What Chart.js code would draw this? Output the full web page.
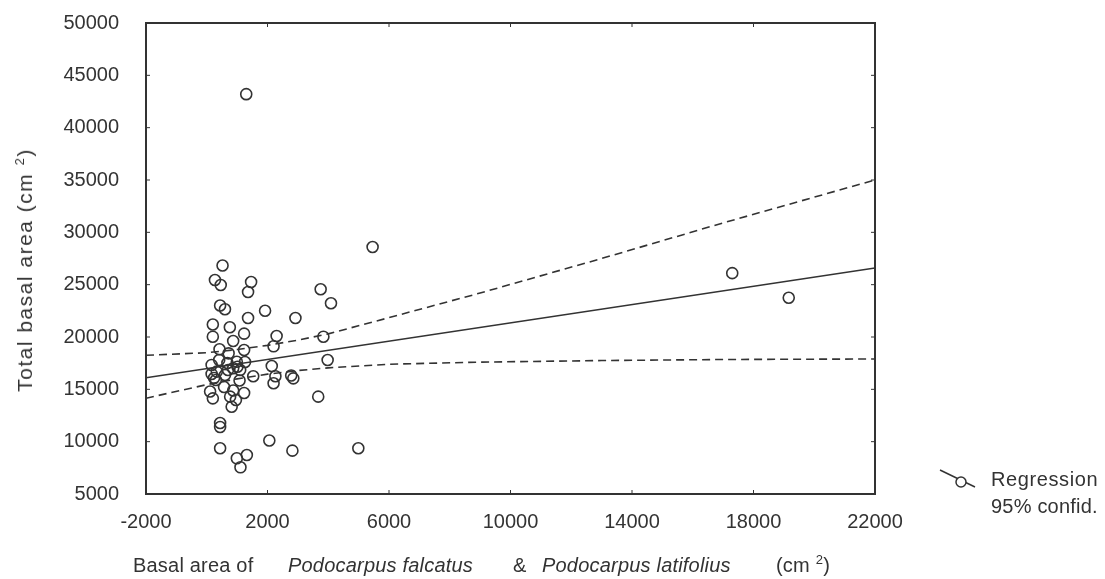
<!DOCTYPE html>
<html><head><meta charset="utf-8">
<script src="https://cdn.jsdelivr.net/npm/chart.js@4"></script>
<style>
html,body{margin:0;padding:0;background:#fff;}
#wrap{position:relative;width:1105px;height:579px;font-family:"Liberation Sans",Arial,sans-serif;color:#333;overflow:hidden;}
canvas{position:absolute;left:0;top:0;}
.t{position:absolute;white-space:nowrap;font-size:20px;line-height:20px;letter-spacing:0.2px;}
.i{font-style:italic;}
sup{font-size:13px;vertical-align:8px;line-height:0;}
#ytitle{position:absolute;left:25px;top:270px;transform:translate(-50%,-50%) rotate(-90deg);white-space:nowrap;font-size:21px;line-height:22px;letter-spacing:1.5px;}
</style></head><body>
<div id="wrap">
<canvas id="c" width="1105" height="579"></canvas>
<div id="ytitle">Total basal area (cm <sup>2</sup>)</div>
<div class="t" style="left:133px;top:555px">Basal area of</div>
<div class="t i" style="left:288px;top:555px">Podocarpus falcatus</div>
<div class="t" style="left:513px;top:555px">&amp;</div>
<div class="t i" style="left:542px;top:555px">Podocarpus latifolius</div>
<div class="t" style="left:776px;top:555px">(cm <sup>2</sup>)</div>
<svg style="position:absolute;left:935px;top:465px" width="50" height="30">
  <line x1="5" y1="5" x2="40" y2="22" stroke="#333" stroke-width="1.5"/>
  <circle cx="26" cy="17" r="5" fill="#fff" stroke="#333" stroke-width="1.5"/>
</svg>
<div class="t" style="left:991px;top:469px;font-size:20px;letter-spacing:0.6px">Regression</div>
<div class="t" style="left:991px;top:496px;font-size:20px;letter-spacing:0.2px">95% confid.</div>
</div>
<script>
// Scatter data (x: basal area of Podocarpus, y: total basal area)
const pointX = [1300,5460,17300,19160,4990,520,270,460,1460,1360,3750,4090,440,600,1920,2920,1360,200,760,1230,200,870,2300,2200,3840,420,1230,720,3980,410,990,1260,2140,160,160,680,600,1080,1530,2260,2200,2780,2850,110,200,570,870,1230,770,960,820,3670,440,440,440,990,1320,1110,2060,2820,300,1100,1010,240,700,330,870];
const pointY = [43200,28600,26100,23750,9370,26830,25450,24970,25250,24300,24560,23220,23010,22650,22510,21820,21820,21190,20930,20320,20030,19620,20100,19110,20030,18830,18760,18440,17800,17800,17640,17610,17230,17330,16470,17520,16370,15840,16250,16250,15580,16320,16050,14790,14140,15220,14890,14650,14300,13980,13340,14300,11780,11400,9370,8410,8730,7550,10110,9140,15890,16850,17160,16080,16850,16690,17010];
// Regression line
const regX = [-2000, 22000];
const regY = [16100, 26600];
// 95% confidence bands
const ciX = [-2000, 0, 1000, 2000, 3000, 4000, 6000, 9000, 13000, 17000, 22000];
const ciUpper = [18250, 18500, 18800, 19200, 19700, 20300, 21850, 24200, 27500, 30900, 35000];
const ciLower = [14150, 15450, 16000, 16450, 16800, 17050, 17400, 17600, 17750, 17850, 17900];
// Axis ticks
const xMin = -2000, xMax = 22000, xStep = 4000;
const yMin = 5000, yMax = 50000, yStep = 5000;

const ink = '#333';
const toXY = (xs, ys) => xs.map((x, i) => ({x: x, y: ys[i]}));

const framePlugin = {
  id: 'frame',
  afterDatasetsDraw(chart) {
    const {ctx, chartArea: a, scales} = chart;
    ctx.save();
    ctx.strokeStyle = ink;
    ctx.lineWidth = 2;
    ctx.strokeRect(a.left, a.top, a.right - a.left, a.bottom - a.top);
    ctx.lineWidth = 1;
    ctx.beginPath();
    scales.x.ticks.forEach(t => {
      const px = scales.x.getPixelForValue(t.value);
      ctx.moveTo(px, a.bottom); ctx.lineTo(px, a.bottom - 4);
      ctx.moveTo(px, a.top); ctx.lineTo(px, a.top + 4);
    });
    scales.y.ticks.forEach(t => {
      const py = scales.y.getPixelForValue(t.value);
      ctx.moveTo(a.left, py); ctx.lineTo(a.left + 4, py);
      ctx.moveTo(a.right, py); ctx.lineTo(a.right - 4, py);
    });
    ctx.stroke();
    ctx.restore();
  }
};

const tickFont = {family: 'Liberation Sans', size: 20};

new Chart(document.getElementById('c'), {
  type: 'scatter',
  data: {
    datasets: [
      {label: 'Upper 95%', data: toXY(ciX, ciUpper), showLine: true, pointRadius: 0, borderColor: ink, borderWidth: 1.6, borderDash: [8, 5], fill: false},
      {label: 'Lower 95%', data: toXY(ciX, ciLower), showLine: true, pointRadius: 0, borderColor: ink, borderWidth: 1.6, borderDash: [8, 5], fill: false},
      {label: 'Regression', data: toXY(regX, regY), showLine: true, pointRadius: 0, borderColor: ink, borderWidth: 1.6, fill: false},
      {label: 'Plots', data: toXY(pointX, pointY), pointRadius: 5.5, pointBorderWidth: 1.6, pointBackgroundColor: 'rgba(255,255,255,0)', pointBorderColor: ink, showLine: false}
    ]
  },
  options: {
    responsive: false,
    animation: false,
    devicePixelRatio: 1,
    layout: {padding: {left: 0, right: 230, top: 23, bottom: 0}},
    plugins: {legend: {display: false}, tooltip: {enabled: false}},
    scales: {
      x: {
        type: 'linear', min: xMin, max: xMax,
        afterFit: s => { s.height = 85; },
        grid: {display: false, drawTicks: false},
        border: {display: false},
        ticks: {stepSize: xStep, padding: 16, color: ink, font: tickFont, callback: v => String(v)}
      },
      y: {
        type: 'linear', min: yMin, max: yMax,
        afterFit: s => { s.width = 146; s.paddingTop = 0; s.paddingBottom = 0; },
        grid: {display: false, drawTicks: false},
        border: {display: false},
        ticks: {stepSize: yStep, padding: 27, color: ink, font: tickFont, callback: v => String(v)}
      }
    }
  },
  plugins: [framePlugin]
});
</script>
</body></html>
